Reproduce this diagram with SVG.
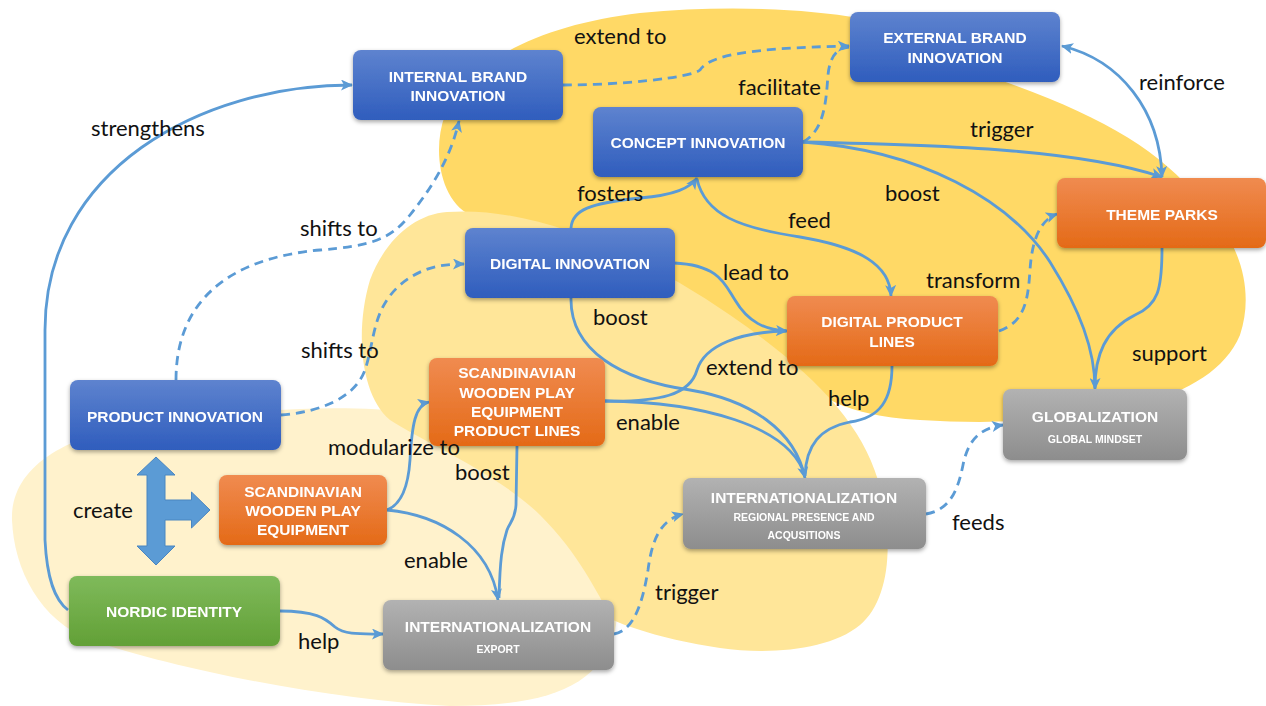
<svg xmlns="http://www.w3.org/2000/svg" width="1266" height="706" viewBox="0 0 1266 706">
<defs>
<linearGradient id="gBlue" x1="0" y1="0" x2="0" y2="1"><stop offset="0" stop-color="#5E83CF"/><stop offset="1" stop-color="#2F5DBD"/></linearGradient>
<linearGradient id="gOrange" x1="0" y1="0" x2="0" y2="1"><stop offset="0" stop-color="#F08B50"/><stop offset="1" stop-color="#E46A17"/></linearGradient>
<linearGradient id="gGray" x1="0" y1="0" x2="0" y2="1"><stop offset="0" stop-color="#B2B2B2"/><stop offset="1" stop-color="#8D8D8D"/></linearGradient>
<linearGradient id="gGreen" x1="0" y1="0" x2="0" y2="1"><stop offset="0" stop-color="#7FBA5B"/><stop offset="1" stop-color="#62A036"/></linearGradient>
<filter id="sh" x="-10%" y="-10%" width="120%" height="130%"><feDropShadow dx="0" dy="2" stdDeviation="2" flood-color="#000" flood-opacity="0.35"/></filter>
<marker id="ah" markerUnits="userSpaceOnUse" markerWidth="12" markerHeight="11" viewBox="0 0 12 11" refX="11" refY="5.5" orient="auto-start-reverse"><path d="M0,0 L12,5.5 L0,11 L3,5.5 Z" fill="#5B9BD5"/></marker>
</defs>
<style>
.c{fill:none;stroke:#5B9BD5;stroke-width:2.8;}
.d{stroke-dasharray:9 6;}
.a{marker-end:url(#ah);}
.n{filter:url(#sh);}
.t{font-family:"Liberation Sans",Arial,sans-serif;font-weight:bold;font-size:15.5px;fill:#fff;text-anchor:middle;}
.s{font-family:"Liberation Sans",Arial,sans-serif;font-weight:bold;font-size:10.5px;fill:#fff;text-anchor:middle;}
.l{font-family:Lato,"Open Sans",sans-serif;font-size:22px;fill:#111;}
</style>
<rect width="1266" height="706" fill="#fff"/>
<g id="blobs">
<path d="M470,215 C440,200 432,150 445,115 C470,60 540,25 640,13 C720,5 800,8 860,18 L1000,80 C1100,115 1160,150 1200,200 C1240,240 1255,290 1240,335 C1225,370 1190,390 1140,405 C1080,420 1000,425 920,420 C880,418 850,410 830,400 Z" fill="#FFD966"/>
<path d="M12,520 C10,470 60,435 150,422 C250,410 400,395 480,430 C560,470 630,560 615,630 C600,690 540,706 450,706 C330,700 180,670 90,640 C40,620 14,570 12,520 Z" fill="#FFF2CC"/>
<path d="M447,212 C540,205 650,260 730,315 C810,370 860,420 878,480 C895,540 890,600 860,625 C830,650 770,655 720,648 C680,642 640,632 613,620 C595,590 580,555 540,515 C500,475 420,440 390,420 C360,395 355,330 370,280 C385,240 415,214 447,212 Z" fill="#FFE699"/>
</g>
<g id="connectors">
<path class="c a" d="M68,610 C55,600 47,580 45,540 L45,330 C45,170 200,85 352,85"/>
<path class="c d a" d="M176,380 C176,300 230,258 320,250 C370,246 390,240 410,215 C430,190 450,160 459,121"/>
<path class="c d a" d="M281,415 C320,412 355,398 365,370 C375,340 372,310 400,285 C420,268 440,264 464,264"/>
<path class="c d a" d="M563,85 C620,85 690,78 700,70 C710,55 750,48 849,46"/>
<path class="c d" d="M803,142 C825,130 826,100 828,75 C830,55 838,48 849,47"/>
<path class="c a" style="marker-start:url(#ah)" d="M1062,46 C1120,60 1160,110 1162,177"/>
<path class="c a" d="M803,142 C950,145 1080,150 1162,177"/>
<path class="c a" d="M803,142 C920,150 1010,200 1050,262 C1080,310 1095,350 1095,389"/>
<path class="c" d="M1162,248 C1162,290 1158,305 1135,315 C1105,330 1095,355 1095,388"/>
<path class="c a" d="M571,228 C572,210 590,203 640,198 C675,195 690,188 697,178"/>
<path class="c a" d="M697,179 C705,215 740,228 800,237 C860,247 890,265 891,296"/>
<path class="c a" d="M674,263 C720,265 725,285 735,300 C748,322 765,330 787,331"/>
<path class="c" d="M605,401 C660,402 690,395 697,370 C705,345 740,332 786,331"/>
<path class="c a" d="M571,298 C570,350 620,380 690,390 C750,400 795,430 805,478"/>
<path class="c" d="M605,401 C700,402 790,425 805,476"/>
<path class="c" d="M892,366 C892,400 880,418 850,422 C820,428 806,445 805,476"/>
<path class="c d a" d="M999,331 C1025,322 1028,300 1030,270 C1032,240 1040,220 1057,214"/>
<path class="c a" d="M387,510 C400,505 408,490 410,460 C412,425 415,405 429,402"/>
<path class="c a" d="M387,510 C440,515 490,545 498,600"/>
<path class="c" d="M517,446 L516,505 C515,520 510,522 507,530 C502,545 500,560 499,598"/>
<path class="c a" d="M280,611 C315,611 325,618 335,627 C345,635 360,634 383,634"/>
<path class="c d a" d="M614,634 C635,630 643,600 648,570 C652,540 660,520 683,514"/>
<path class="c d a" d="M926,514 C950,510 958,490 963,465 C968,440 980,428 1003,425"/>
</g>
<g id="create-arrow">
<polygon points="156,457 175,475 165,475 165,500 191.5,500 191.5,492 210,510 191.5,528 191.5,520 165,520 165,546 175,546 156,565 137,546 147,546 147,475 137,475" fill="#5B9BD5" stroke="#4A86C0" stroke-width="1"/>
</g>
<g id="n-internal-brand" class="n"><rect x="353" y="50" width="210" height="70" rx="8" fill="url(#gBlue)"/><text class="t" x="458" y="82">INTERNAL BRAND</text><text class="t" x="458" y="101">INNOVATION</text></g>
<g id="n-external-brand" class="n"><rect x="850" y="12" width="210" height="70" rx="8" fill="url(#gBlue)"/><text class="t" x="955" y="43">EXTERNAL BRAND</text><text class="t" x="955" y="63">INNOVATION</text></g>
<g id="n-concept" class="n"><rect x="593" y="107" width="210" height="70" rx="8" fill="url(#gBlue)"/><text class="t" x="698" y="148">CONCEPT INNOVATION</text></g>
<g id="n-theme-parks" class="n"><rect x="1057" y="178" width="209" height="70" rx="8" fill="url(#gOrange)"/><text class="t" x="1162" y="220">THEME PARKS</text></g>
<g id="n-digital" class="n"><rect x="465" y="228" width="210" height="70" rx="8" fill="url(#gBlue)"/><text class="t" x="570" y="269">DIGITAL INNOVATION</text></g>
<g id="n-digital-product-lines" class="n"><rect x="787" y="296" width="211" height="70" rx="8" fill="url(#gOrange)"/><text class="t" x="892" y="327">DIGITAL PRODUCT</text><text class="t" x="892" y="347">LINES</text></g>
<g id="n-product-innovation" class="n"><rect x="70" y="380" width="211" height="70" rx="8" fill="url(#gBlue)"/><text class="t" x="175" y="422">PRODUCT INNOVATION</text></g>
<g id="n-swpe-product-lines" class="n"><rect x="429" y="358" width="176" height="88" rx="8" fill="url(#gOrange)"/><text class="t" x="517" y="378">SCANDINAVIAN</text><text class="t" x="517" y="398">WOODEN PLAY</text><text class="t" x="517" y="417">EQUIPMENT</text><text class="t" x="517" y="436">PRODUCT LINES</text></g>
<g id="n-swpe" class="n"><rect x="219" y="475" width="168" height="70" rx="8" fill="url(#gOrange)"/><text class="t" x="303" y="497">SCANDINAVIAN</text><text class="t" x="303" y="516">WOODEN PLAY</text><text class="t" x="303" y="535">EQUIPMENT</text></g>
<g id="n-nordic" class="n"><rect x="69" y="576" width="211" height="70" rx="8" fill="url(#gGreen)"/><text class="t" x="174" y="617">NORDIC IDENTITY</text></g>
<g id="n-intl-export" class="n"><rect x="383" y="600" width="231" height="70" rx="8" fill="url(#gGray)"/><text class="t" x="498" y="632">INTERNATIONALIZATION</text><text class="s" x="498" y="653">EXPORT</text></g>
<g id="n-intl-regional" class="n"><rect x="683" y="478" width="243" height="71" rx="8" fill="url(#gGray)"/><text class="t" x="804" y="503">INTERNATIONALIZATION</text><text class="s" x="804" y="521">REGIONAL PRESENCE AND</text><text class="s" x="804" y="539">ACQUSITIONS</text></g>
<g id="n-globalization" class="n"><rect x="1003" y="389" width="184" height="71" rx="8" fill="url(#gGray)"/><text class="t" x="1095" y="422">GLOBALIZATION</text><text class="s" x="1095" y="443">GLOBAL MINDSET</text></g>
<g id="labels">
<text class="l" x="574" y="44">extend to</text>
<text class="l" x="738" y="95">facilitate</text>
<text class="l" x="91" y="136">strengthens</text>
<text class="l" x="300" y="236">shifts to</text>
<text class="l" x="301" y="358">shifts to</text>
<text class="l" x="1139" y="90">reinforce</text>
<text class="l" x="970" y="137">trigger</text>
<text class="l" x="885" y="201">boost</text>
<text class="l" x="577" y="201">fosters</text>
<text class="l" x="788" y="228">feed</text>
<text class="l" x="723" y="280">lead to</text>
<text class="l" x="926" y="288">transform</text>
<text class="l" x="593" y="325">boost</text>
<text class="l" x="706" y="375">extend to</text>
<text class="l" x="828" y="406">help</text>
<text class="l" x="1132" y="361">support</text>
<text class="l" x="616" y="430">enable</text>
<text class="l" x="328" y="455">modularize to</text>
<text class="l" x="455" y="480">boost</text>
<text class="l" x="73" y="518">create</text>
<text class="l" x="952" y="530">feeds</text>
<text class="l" x="404" y="568">enable</text>
<text class="l" x="655" y="600">trigger</text>
<text class="l" x="298" y="649">help</text>
</g>
</svg>
